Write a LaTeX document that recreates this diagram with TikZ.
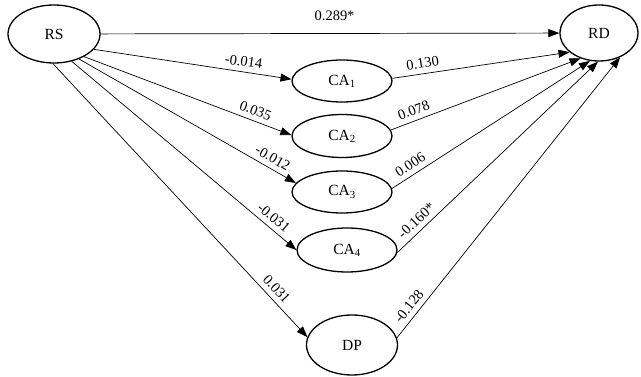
\documentclass[tikz,border=0pt]{standalone}
\usepackage{fontspec}
\setmainfont{Liberation Serif}
\usetikzlibrary{arrows.meta,shapes.geometric}
\begin{document}
\begin{tikzpicture}[x=1pt,y=-1pt,
  var/.style={draw,ellipse,line width=1.3pt,inner sep=0pt,font=\fontsize{15.5}{18}\selectfont},
  arr/.style={line width=0.7pt,-{Triangle[length=11pt,width=8pt]}},
  lab/.style={sloped,above=4pt,inner sep=1pt,font=\fontsize{14.5}{16}\selectfont}]
\useasboundingbox[fill=white] (0,0) rectangle (641,377);
\node[var,minimum width=92pt,minimum height=58pt] (RS) at (54,34) {RS};
\node[var,minimum width=78pt,minimum height=56pt] (RD) at (599,33) {RD};
\node[var,minimum width=100pt,minimum height=42pt] (CA1) at (342,81) {CA\textsubscript{1}};
\node[var,minimum width=100pt,minimum height=43pt] (CA2) at (342,136) {CA\textsubscript{2}};
\node[var,minimum width=100pt,minimum height=42pt] (CA3) at (342,192) {CA\textsubscript{3}};
\node[var,minimum width=100pt,minimum height=44pt] (CA4) at (347,250) {CA\textsubscript{4}};
\node[var,minimum width=91pt,minimum height=60pt] (DP) at (352,345) {DP};
% RS -> RD
\draw[arr] (RS) -- node[lab,above=7pt,pos=0.51] {0.289*} (RD);
% RS -> mediators
\draw[arr] (RS.-21) -- node[lab,pos=0.75] {-0.014} (CA1.178);
\draw[arr] (RS.-37) -- node[lab,pos=0.81] {0.035} (CA2.179);
\draw[arr] (RS.-45) -- node[lab,pos=0.87] {-0.012} (CA3.169);
\draw[arr] (RS.-57) -- node[lab,pos=0.87] {-0.031} (CA4.180);
\draw[arr] (RS.-92) -- node[lab,pos=0.85] {0.031} (DP.170);
% mediators -> RD
\draw[arr] (CA1.3) -- node[lab,pos=0.18] {0.130} (RD.213);
\draw[arr] (CA2.7) -- node[lab,pos=0.14] {0.078} (RD.234);
\draw[arr] (CA3.4) -- node[lab,pos=0.12] {0.006} (RD.252);
\draw[arr] (CA4.-3) -- node[lab,pos=0.13] {-0.160*} (RD.268);
\draw[arr] (DP.9) -- node[lab,pos=0.09] {-0.128} (RD.311);
\end{tikzpicture}
\end{document}
